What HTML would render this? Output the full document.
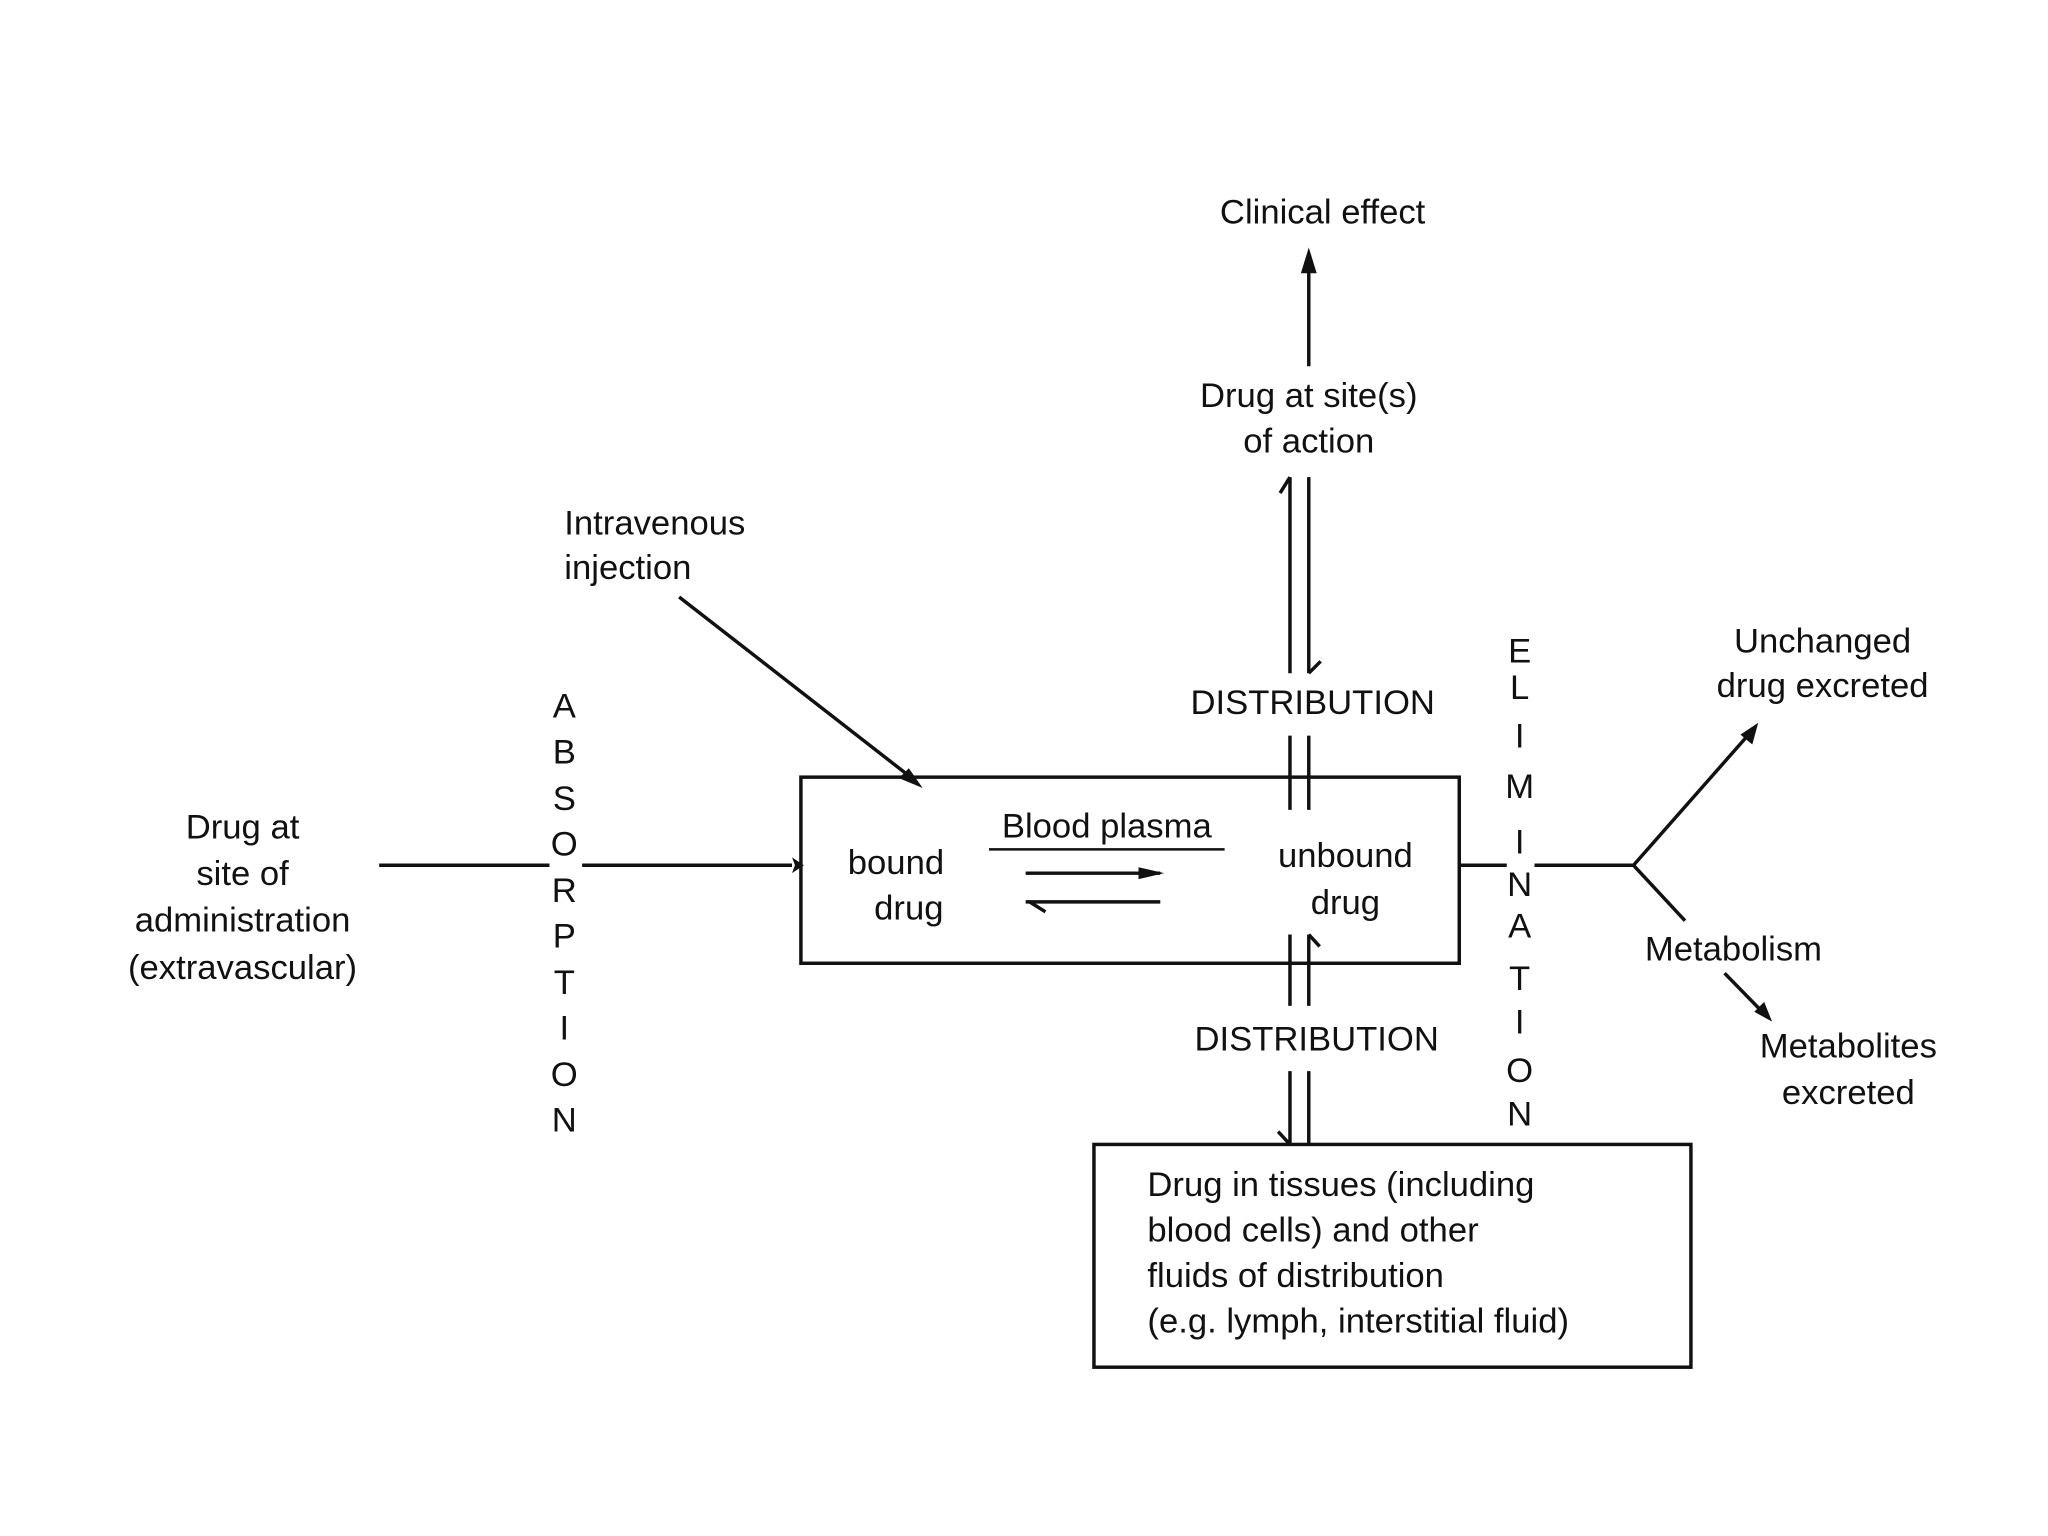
<!DOCTYPE html>
<html><head><meta charset="utf-8"><style>
html,body{margin:0;padding:0;background:#fff;}
svg{display:block;}
text{font-family:"Liberation Sans",sans-serif;font-size:35px;fill:#111;}
</style></head><body>
<svg width="2048" height="1536" viewBox="0 0 2048 1536" xmlns="http://www.w3.org/2000/svg">
<g transform="scale(0.99)">
<g stroke="#111" stroke-width="3.5" fill="none">
<rect x="809" y="785" width="665" height="188"/>
<rect x="1105" y="1156" width="603" height="225"/>
<line x1="383" y1="874" x2="555" y2="874"/>
<line x1="588" y1="874" x2="800" y2="874"/>
<line x1="686" y1="603" x2="925" y2="789"/>
<line x1="1322" y1="370" x2="1322" y2="262"/>
<line x1="1303" y1="482" x2="1303" y2="680"/>
<line x1="1322" y1="482" x2="1322" y2="680"/>
<polyline points="1293,498 1303,482"/>
<polyline points="1322,680 1334,668"/>
<line x1="1303" y1="743" x2="1303" y2="818"/>
<line x1="1322" y1="743" x2="1322" y2="818"/>
<line x1="1303" y1="944" x2="1303" y2="1016"/>
<line x1="1322" y1="944" x2="1322" y2="1016"/>
<polyline points="1322,944 1333,956"/>
<line x1="1303" y1="1082" x2="1303" y2="1156"/>
<line x1="1322" y1="1082" x2="1322" y2="1156"/>
<polyline points="1291,1143 1303,1156"/>
<line x1="999" y1="858" x2="1237" y2="858" stroke-width="2.5"/>
<line x1="1036" y1="882" x2="1172" y2="882"/>
<line x1="1036" y1="911" x2="1172" y2="911"/>
<polyline points="1040,911 1056,921"/>
<line x1="1474" y1="874" x2="1522" y2="874"/>
<line x1="1550" y1="874" x2="1650" y2="874"/>
<line x1="1650" y1="874" x2="1768" y2="740"/>
<line x1="1650" y1="874" x2="1702" y2="930"/>
<line x1="1742" y1="983" x2="1782" y2="1024"/>
</g>
<g fill="#111">
<polygon points="800,866 812,874 800,882 803,874"/>
<polygon points="932,796 908,786 918,776"/>
<polygon points="1322,250 1314,276 1330,276"/>
<polygon points="1176,882 1150,876 1150,888"/>
<polygon points="1776,730 1758,742 1770,752"/>
<polygon points="1790,1032 1772,1022 1782,1012"/>
</g>
<text x="1336" y="226" text-anchor="middle">Clinical effect</text>
<text x="1322" y="411" text-anchor="middle">Drug at site(s)</text>
<text x="1322" y="457" text-anchor="middle">of action</text>
<text x="570" y="540">Intravenous</text>
<text x="570" y="585">injection</text>
<text x="1326" y="721" text-anchor="middle">DISTRIBUTION</text>
<text x="1330" y="1061" text-anchor="middle">DISTRIBUTION</text>
<text x="245" y="847" text-anchor="middle">Drug at</text>
<text x="245" y="894" text-anchor="middle">site of</text>
<text x="245" y="941" text-anchor="middle">administration</text>
<text x="245" y="989" text-anchor="middle">(extravascular)</text>
<g text-anchor="middle">
<text x="570" y="725">A</text><text x="570" y="771">B</text><text x="570" y="818">S</text>
<text x="570" y="864">O</text><text x="570" y="911">R</text><text x="570" y="957">P</text>
<text x="570" y="1004">T</text><text x="570" y="1050">I</text><text x="570" y="1097">O</text>
<text x="570" y="1143">N</text>
<text x="1535" y="669">E</text><text x="1535" y="706">L</text><text x="1535" y="755">I</text>
<text x="1535" y="806">M</text><text x="1535" y="862">I</text><text x="1535" y="905">N</text>
<text x="1535" y="947">A</text><text x="1535" y="1000">T</text><text x="1535" y="1044">I</text>
<text x="1535" y="1093">O</text><text x="1535" y="1137">N</text>
</g>
<text x="905" y="883" text-anchor="middle">bound</text>
<text x="918" y="929" text-anchor="middle">drug</text>
<text x="1118" y="846" text-anchor="middle">Blood plasma</text>
<text x="1359" y="876" text-anchor="middle">unbound</text>
<text x="1359" y="923" text-anchor="middle">drug</text>
<text x="1841" y="659" text-anchor="middle">Unchanged</text>
<text x="1841" y="704" text-anchor="middle">drug excreted</text>
<text x="1751" y="970" text-anchor="middle">Metabolism</text>
<text x="1867" y="1068" text-anchor="middle">Metabolites</text>
<text x="1867" y="1115" text-anchor="middle">excreted</text>
<text x="1159" y="1208">Drug in tissues (including</text>
<text x="1159" y="1254">blood cells) and other</text>
<text x="1159" y="1300">fluids of distribution</text>
<text x="1159" y="1346">(e.g. lymph, interstitial fluid)</text>
</g>
</svg>
</body></html>
